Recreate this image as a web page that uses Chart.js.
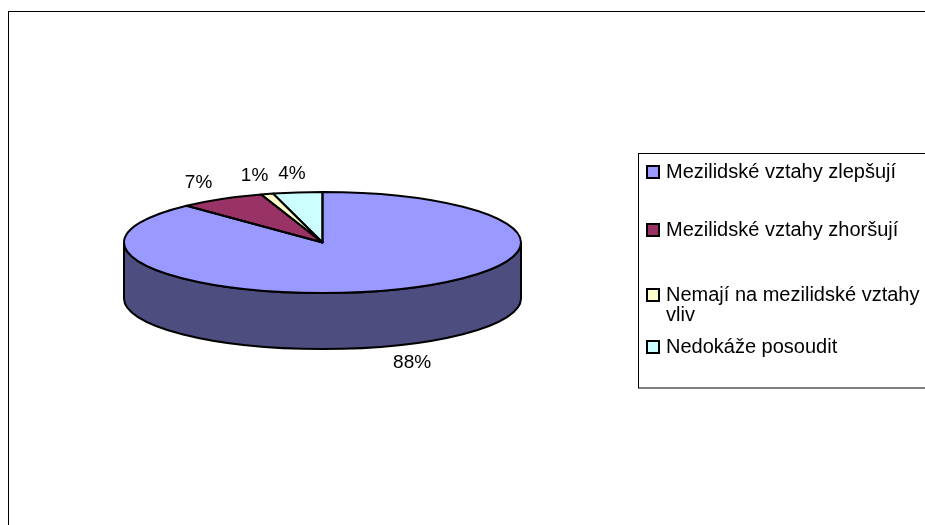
<!DOCTYPE html>
<html>
<head>
<meta charset="utf-8">
<script src="https://cdn.jsdelivr.net/npm/chart.js@4.4.0/dist/chart.umd.min.js"></script>
<style>
  html, body { margin: 0; padding: 0; background: #fff; }
  #wrap { width: 925px; height: 525px; }
</style>
</head>
<body>
<div id="wrap"><canvas id="pie" width="925" height="525"></canvas></div>
<script>
const labels = ['Mezilidské vztahy zlepšují', 'Mezilidské vztahy zhoršují', 'Nemají na mezilidské vztahy vliv', 'Nedokáže posoudit'];
const legendLines = [['Mezilidské vztahy zlepšují'], ['Mezilidské vztahy zhoršují'], ['Nemají na mezilidské vztahy', 'vliv'], ['Nedokáže posoudit']];
const values = [88, 7, 1, 4];
const topColors = ['#9999FF', '#993366', '#FFFFCC', '#CCFFFF'];
const sideColors = ['#4D4D80', '#4D1A33', '#808066', '#668080'];

const TILT = 50.5 / 198.5;   // vertical squash of the pie top
const DEPTH = 56;            // height of the pie wall
const FONT = '"Liberation Sans", Arial, sans-serif';

// draws the pie as a tilted disc: wall first, squashed top, then outlines
const pie3d = {
  id: 'pie3d',
  beforeDatasetsDraw(chart) {
    const ctx = chart.ctx;
    const arcs = chart.getDatasetMeta(0).data;
    const cx = arcs[0].x, cy = arcs[0].y, r = arcs[0].outerRadius;
    const ry = r * TILT;
    ctx.save();
    ctx.lineWidth = 2;
    ctx.strokeStyle = '#000';
    ctx.lineJoin = 'round';
    arcs.forEach((arc, i) => {
      for (const off of [0, Math.PI * 2]) {
        const a0 = Math.max(arc.startAngle, off);
        const a1 = Math.min(arc.endAngle, off + Math.PI);
        if (a1 <= a0) continue;
        ctx.beginPath();
        ctx.ellipse(cx, cy, r, ry, 0, a0, a1);
        ctx.lineTo(cx + r * Math.cos(a1), cy + ry * Math.sin(a1) + DEPTH);
        ctx.ellipse(cx, cy + DEPTH, r, ry, 0, a1, a0, true);
        ctx.closePath();
        ctx.fillStyle = sideColors[i];
        ctx.fill();
        ctx.stroke();
      }
    });
    ctx.restore();
    ctx.save();
    ctx.translate(cx, cy);
    ctx.scale(1, TILT);
    ctx.translate(-cx, -cy);
  },
  afterDatasetsDraw(chart) {
    const ctx = chart.ctx;
    ctx.restore();
    const arcs = chart.getDatasetMeta(0).data;
    const cx = arcs[0].x, cy = arcs[0].y, r = arcs[0].outerRadius;
    const ry = r * TILT;
    ctx.save();
    ctx.lineWidth = 2;
    ctx.strokeStyle = '#000';
    ctx.lineJoin = 'round';
    arcs.forEach(arc => {
      ctx.beginPath();
      ctx.moveTo(cx, cy);
      ctx.ellipse(cx, cy, r, ry, 0, arc.startAngle, arc.endAngle);
      ctx.closePath();
      ctx.stroke();
    });
    // percentage labels outside the slices
    ctx.fillStyle = '#000';
    ctx.font = '19px ' + FONT;
    ctx.textAlign = 'center';
    ctx.textBaseline = 'middle';
    arcs.forEach((arc, i) => {
      const mid = (arc.startAngle + arc.endAngle) / 2;
      const s = Math.sin(mid);
      const x = cx + Math.cos(mid) * (r + 45);
      const y = cy + s * (ry + 19) + (s > 0 ? DEPTH : 0);
      ctx.fillText(values[i] + '%', x, y);
    });
    ctx.restore();
  },
  afterDraw(chart) {
    const ctx = chart.ctx;
    ctx.save();
    ctx.strokeStyle = '#000';
    ctx.lineWidth = 1;
    ctx.strokeRect(8.5, 11.5, 940, 540);
    ctx.strokeRect(638.5, 153.5, 320, 234.5);
    const rowY = [172, 230, 295, 347];
    ctx.font = '20px ' + FONT;
    ctx.textAlign = 'left';
    ctx.textBaseline = 'middle';
    legendLines.forEach((lines, i) => {
      ctx.fillStyle = topColors[i];
      ctx.fillRect(647, rowY[i] - 6, 12, 12);
      ctx.lineWidth = 2;
      ctx.strokeRect(647, rowY[i] - 6, 12, 12);
      ctx.fillStyle = '#000';
      lines.forEach((t, j) => ctx.fillText(t, 666, rowY[i] + j * 20));
    });
    ctx.restore();
  }
};

new Chart(document.getElementById('pie'), {
  type: 'pie',
  data: {
    labels: labels,
    datasets: [{
      data: values,
      backgroundColor: topColors,
      borderWidth: 0
    }]
  },
  options: {
    responsive: false,
    animation: false,
    events: [],
    layout: { padding: { left: 124, right: 404, top: 44, bottom: 84 } },
    plugins: {
      legend: { display: false },
      tooltip: { enabled: false }
    }
  },
  plugins: [pie3d]
});
</script>
</body>
</html>
